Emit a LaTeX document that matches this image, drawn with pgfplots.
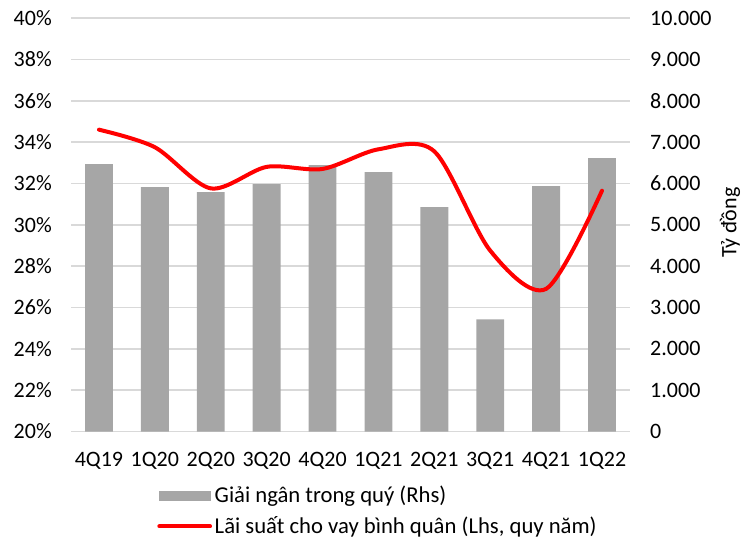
\documentclass[border=0pt]{standalone}
\usepackage{fontspec}
\setmainfont{Carlito}
\usepackage{pgfplots}
\pgfplotsset{compat=1.18}
\definecolor{bargray}{HTML}{A6A6A6}
\definecolor{gridgray}{HTML}{D9D9D9}
\begin{document}
\fontsize{16.5}{19.5}\selectfont
\begin{tikzpicture}
\begin{axis}[
 name=ax,
 scale only axis, width=419pt, height=310pt,
 xmin=-0.5, xmax=9.5, ymin=0, ymax=10000,
 axis y line*=right, axis x line*=bottom,
 axis line style={draw=none},
 xtick={0,...,9},
 xticklabels={4Q19,1Q20,2Q20,3Q20,4Q20,1Q21,2Q21,3Q21,4Q21,1Q22},
 ytick={0,1000,...,10000},
 scaled y ticks=false,
 ymajorgrids, grid style={gridgray, line width=1.2pt},
 major tick length=0pt,
 xticklabel style={anchor=north, inner sep=0pt, yshift=-15.5pt},
 yticklabel style={anchor=west, inner sep=0pt, xshift=15pt},
 ylabel={Tỷ đồng},
 ylabel style={at={(axis description cs:1.179,0.505)}, anchor=center, inner sep=0pt},
 /pgf/number format/1000 sep={.},
 /pgf/number format/assume math mode=true,
]
\addplot[ybar, bar width=20.9pt, fill=bargray, draw=none] coordinates {
(0,6465) (1,5908) (2,5787) (3,5981) (4,6441) (5,6271) (6,5424) (7,2712) (8,5932) (9,6610)};
\end{axis}
\begin{axis}[
 scale only axis, width=419pt, height=310pt,
 xmin=-0.5, xmax=9.5, ymin=20, ymax=40,
 axis y line*=left, axis x line=none,
 axis line style={draw=none},
 ytick={20,22,...,40},
 yticklabel={\pgfmathprintnumber{\tick}\%},
 major tick length=0pt,
 yticklabel style={anchor=east, inner sep=0pt, xshift=-14.25pt},
 /pgf/number format/assume math mode=true,
 legend style={at={(0.154,-0.124)}, anchor=north west, draw=none, fill=none,
   cells={anchor=west}, row sep=4pt, font=\fontsize{17}{19.5}\selectfont,
   inner sep=0pt},
]
\addlegendimage{legend image code/.code={\fill[bargray] (0pt,-3.4pt) rectangle (38pt,3.4pt);}}
\addlegendentry{Giải ngân trong quý (Rhs)}
\addplot[red, line width=3pt, smooth, line cap=round,
  legend image code/.code={\draw[red, line width=3pt] (0pt,0pt) -- (38pt,0pt);}] coordinates {
(0,34.6) (1,33.75) (2,31.76) (3,32.8) (4,32.7) (5,33.65) (6,33.55) (7,28.75) (8,26.9) (9,31.65)};
\addlegendentry{Lãi suất cho vay bình quân (Lhs, quy năm)}
\end{axis}
\pgfresetboundingbox
\path ([shift={(-53.25pt,-81.5pt)}]ax.south west) rectangle ([shift={(83.25pt,13.5pt)}]ax.north east);
\end{tikzpicture}
\end{document}
